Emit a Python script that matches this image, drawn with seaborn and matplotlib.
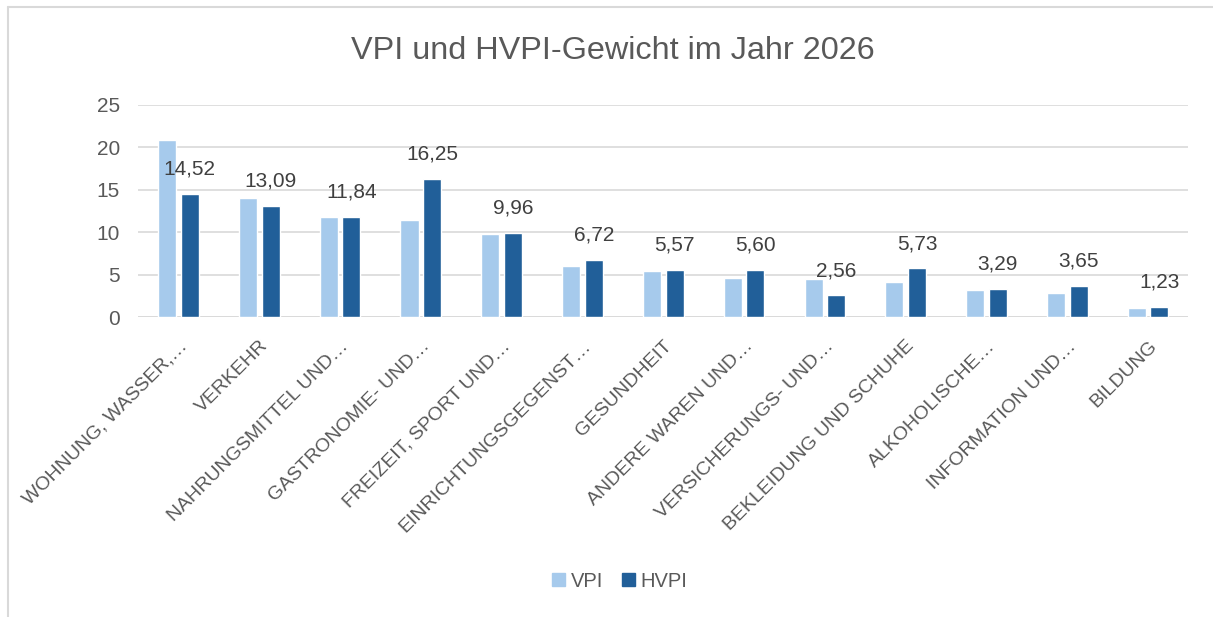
import seaborn as sns
import matplotlib.pyplot as plt
import pandas as pd
from matplotlib.lines import Line2D
from matplotlib.transforms import ScaledTranslation

categories = ["WOHNUNG, WASSER,…", "VERKEHR", "NAHRUNGSMITTEL UND…", "GASTRONOMIE- UND…",
              "FREIZEIT, SPORT UND…", "EINRICHTUNGSGEGENST…", "GESUNDHEIT", "ANDERE WAREN UND…",
              "VERSICHERUNGS- UND…", "BEKLEIDUNG UND SCHUHE", "ALKOHOLISCHE…", "INFORMATION UND…",
              "BILDUNG"]
vpi = [20.9, 14.0, 11.8, 11.4, 9.8, 6.0, 5.4, 4.6, 4.5, 4.1, 3.2, 2.8, 1.1]
hvpi = [14.52, 13.09, 11.84, 16.25, 9.96, 6.72, 5.57, 5.60, 2.56, 5.73, 3.29, 3.65, 1.23]
series = ["VPI", "HVPI"]
colors = ["#A6CAEC", "#215F99"]

df = pd.DataFrame({
    "Kategorie": categories * 2,
    "Gewicht": vpi + hvpi,
    "Index": ["VPI"] * len(vpi) + ["HVPI"] * len(hvpi),
})

sns.set_theme(style="white")
plt.rcParams["font.family"] = ["Liberation Sans", "DejaVu Sans"]

fig = plt.figure(figsize=(12.13, 6.17), dpi=100)
ax = fig.add_axes([0.1138, 0.486, 0.866, 0.344])

sns.barplot(data=df, x="Kategorie", y="Gewicht", hue="Index", hue_order=series,
            palette=colors, width=0.56, gap=0.2, ax=ax, legend=False, saturation=1)

# data labels only on HVPI
ax.bar_label(ax.containers[1], labels=[f"{v:.2f}".replace(".", ",") for v in hvpi],
             padding=11, fontsize=15, color="#404040")

ax.set_ylim(0, 25)
ax.set_xlim(-0.5, len(categories) - 0.5)
ax.set_yticks([0, 5, 10, 15, 20, 25])
ax.yaxis.grid(True, color="#D9D9D9", linewidth=1.2)
ax.set_axisbelow(True)
for s in ax.spines.values():
    s.set_visible(False)
ax.axhline(0, color="#D9D9D9", linewidth=1.2, zorder=0.5)
ax.set_xlabel("")
ax.set_ylabel("")
ax.tick_params(axis="y", labelsize=15, colors="#595959", length=0, pad=13)
ax.tick_params(axis="x", labelsize=14, colors="#595959", length=0, pad=19)
shift = ScaledTranslation(0.06, 0, fig.dpi_scale_trans)
for lab in ax.get_xticklabels():
    lab.set_rotation(45)
    lab.set_ha("right")
    lab.set_va("center")
    lab.set_rotation_mode("anchor")
    lab.set_transform(lab.get_transform() + shift)

fig.text(0.505, 0.918, "VPI und HVPI-Gewicht im Jahr 2026", ha="center", va="center",
         fontsize=23.3, color="#595959")

handles = [plt.Rectangle((0, 0), 1, 1, color=c) for c in colors]
fig.legend(handles, series, loc="center", bbox_to_anchor=(0.511, 0.058), ncol=2, frameon=False,
           fontsize=14.5, labelcolor="#595959", handlelength=0.65, handleheight=0.65,
           handletextpad=0.3, columnspacing=0.9)

# chart frame
fig.add_artist(Line2D([0.0066, 1.0], [0.9887, 0.9887], color="#D9D9D9", linewidth=1.5))
fig.add_artist(Line2D([0.0066, 0.0066], [0.0, 0.9887], color="#D9D9D9", linewidth=1.5))

fig.savefig("out.png", dpi=100)
